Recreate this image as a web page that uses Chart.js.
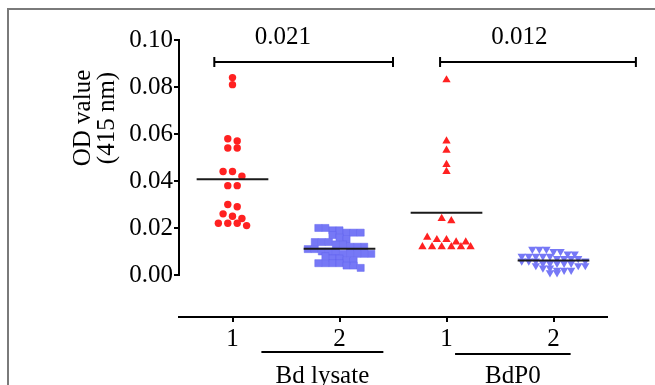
<!DOCTYPE html>
<html>
<head>
<meta charset="utf-8">
<script src="https://cdn.jsdelivr.net/npm/chart.js@4/dist/chart.umd.min.js"></script>
<style>
  body { margin: 0; overflow: hidden; background: #fff; }
  #wrap { position: relative; width: 655px; height: 385px; overflow: hidden; }
  #frame { position: absolute; left: 7px; top: 8px; width: 800px; height: 600px;
           border-top: 2px solid #7a7a7a; border-left: 2px solid #7a7a7a; }
  canvas { position: absolute; left: 0; top: 0; }
</style>
</head>
<body>
<div id="wrap">
  <div id="frame"></div>
  <canvas id="odChart" width="655" height="385"></canvas>
</div>
<script>
// values (OD at 415 nm)
const bdLysate1 = [0.084, 0.081, 0.058, 0.057, 0.054, 0.054, 0.044, 0.044, 0.042, 0.038,
                   0.038, 0.030, 0.029, 0.026, 0.025, 0.024, 0.022, 0.022, 0.022, 0.021];
const bdLysate2 = [0.020, 0.020, 0.019, 0.019, 0.018, 0.018, 0.018, 0.017, 0.016, 0.015,
                   0.014, 0.014, 0.014, 0.013, 0.013, 0.012, 0.012, 0.012, 0.011, 0.011,
                   0.010, 0.010, 0.010, 0.009, 0.009, 0.009, 0.009, 0.009, 0.008, 0.007,
                   0.007, 0.006, 0.006, 0.005, 0.005, 0.005, 0.005, 0.004, 0.004, 0.003];
const bdP01 = [0.083, 0.057, 0.053, 0.047, 0.044, 0.024, 0.023, 0.016, 0.015, 0.015,
               0.014, 0.014, 0.012, 0.012, 0.012, 0.012, 0.012, 0.012];
const bdP02 = [0.011, 0.011, 0.011, 0.010, 0.010, 0.009, 0.009, 0.008, 0.008, 0.008,
               0.008, 0.008, 0.007, 0.007, 0.007, 0.007, 0.006, 0.006, 0.006, 0.006,
               0.005, 0.005, 0.005, 0.005, 0.005, 0.004, 0.004, 0.004, 0.003, 0.003,
               0.002, 0.002, 0.002, 0.001, 0.001];

const xTickLabels = ['1', '2', '1', '2'];
const yTicks = [0, 0.02, 0.04, 0.06, 0.08, 0.10];
const groupNames = ['Bd lysate', 'BdP0'];
const pValues = ['0.021', '0.012'];
const yTitle = ['OD value', '(415 nm)'];

const RED = '#ff2121';
const BLUE = '#7678f6';
const FONT = "'Liberation Serif', 'Times New Roman', serif";

Chart.defaults.font.family = FONT;
Chart.defaults.font.size = 25;
Chart.defaults.color = '#000';

// simple row-based scatter layout like Prism
function swarm(values, center, step, tol, maxPerRow) {
    const sorted = [...values].sort((a, b) => b - a);
    const rows = [];
    sorted.forEach(v => {
        const row = rows[rows.length - 1];
        if (row && row[0] - v <= tol + 1e-9 && row.length < maxPerRow) row.push(v);
        else rows.push([v]);
    });
    const pts = [];
    rows.forEach(row => row.forEach((v, i) => {
        pts.push({x: center + (i - (row.length - 1) / 2) * step, y: v});
    }));
    return pts;
}

const mean = arr => arr.reduce((a, b) => a + b, 0) / arr.length;

function meanLine(values, center) {
    const m = mean(values);
    return {
        data: [{x: center - 0.335, y: m}, {x: center + 0.335, y: m}],
        showLine: true,
        borderColor: '#1a1a1a',
        borderWidth: 2,
        pointRadius: 0,
        order: 0
    };
}

const extras = {
    id: 'extras',
    afterDraw(chart) {
        const {ctx, chartArea, scales: {x, y}} = chart;
        ctx.save();
        ctx.strokeStyle = '#000';
        ctx.fillStyle = '#000';
        ctx.lineWidth = 2;

        // y axis line only over the 0 - 0.10 range
        ctx.beginPath();
        ctx.moveTo(chartArea.left, y.getPixelForValue(0) + 1);
        ctx.lineTo(chartArea.left, y.getPixelForValue(0.1) - 1);
        ctx.stroke();

        // y axis title
        ctx.font = '25px ' + FONT;
        ctx.textAlign = 'center';
        ctx.textBaseline = 'middle';
        yTitle.forEach((t, i) => {
            ctx.save();
            ctx.translate(83 + i * 24, 118);
            ctx.rotate(-Math.PI / 2);
            ctx.fillText(t, 0, 0);
            ctx.restore();
        });

        // comparison brackets
        const brackets = [[0.83, 2.5], [2.94, 4.77]];
        const by = y.getPixelForValue(0.0906);
        brackets.forEach(([a, b], i) => {
            const xa = x.getPixelForValue(a), xb = x.getPixelForValue(b);
            ctx.beginPath();
            ctx.moveTo(xa, by); ctx.lineTo(xb, by);
            ctx.moveTo(xa, by - 5); ctx.lineTo(xa, by + 5);
            ctx.moveTo(xb, by - 5); ctx.lineTo(xb, by + 5);
            ctx.stroke();
            const tx = i === 0 ? 1.47 : 3.68;
            ctx.fillText(pValues[i], x.getPixelForValue(tx), by - 25);
        });

        // group labels under the axis
        const spans = [[1.27, 2.41], [3.08, 4.16]];
        spans.forEach(([a, b], i) => {
            const xa = x.getPixelForValue(a), xb = x.getPixelForValue(b);
            const ly = chartArea.bottom + 35 + i * 2;
            ctx.beginPath();
            ctx.moveTo(xa, ly); ctx.lineTo(xb, ly);
            ctx.stroke();
            ctx.fillText(groupNames[i], (xa + xb) / 2, 376);
        });
        ctx.restore();
    }
};

new Chart(document.getElementById('odChart'), {
    type: 'scatter',
    data: {
        datasets: [
            meanLine(bdLysate1, 1),
            meanLine(bdLysate2, 2),
            meanLine(bdP01, 3),
            meanLine(bdP02, 4),
            {
                data: swarm(bdLysate1, 1, 0.088, 0.0021, 6),
                pointStyle: 'circle', pointRadius: 3.7,
                backgroundColor: RED, borderWidth: 0, order: 1
            },
            {
                data: swarm(bdLysate2, 2, 0.066, 0.0021, 10),
                pointStyle: 'rect', pointRadius: 5,
                backgroundColor: BLUE, borderColor: '#6264ee', borderWidth: 0.5, order: 1
            },
            {
                data: swarm(bdP01, 3, 0.09, 0.0021, 6),
                pointStyle: 'triangle', pointRadius: 4.8,
                backgroundColor: RED, borderWidth: 0, order: 1
            },
            {
                data: swarm(bdP02, 4, 0.066, 0.0021, 10),
                pointStyle: 'triangle', rotation: 180, pointRadius: 4.8,
                backgroundColor: BLUE, borderWidth: 0, order: 1
            }
        ]
    },
    options: {
        responsive: false,
        animation: false,
        layout: {
            padding: {top: 40, right: 48, bottom: 0, left: 0}
        },
        plugins: {
            legend: {display: false},
            tooltip: {enabled: false}
        },
        scales: {
            x: {
                type: 'linear',
                min: 0.5,
                max: 4.5,
                afterBuildTicks: s => { s.ticks = [1, 2, 3, 4].map(v => ({value: v})); },
                afterFit: s => { s.height = 68; },
                ticks: {
                    callback: (v, i) => xTickLabels[i],
                    padding: 2
                },
                grid: {drawOnChartArea: false, color: '#000', lineWidth: 2, tickLength: 5},
                border: {color: '#000', width: 2}
            },
            y: {
                min: -0.0179,
                max: 0.1,
                afterBuildTicks: s => { s.ticks = yTicks.map(v => ({value: v})); },
                afterFit: s => { s.width = 179; },
                ticks: {
                    callback: v => v.toFixed(2),
                    padding: 1
                },
                grid: {drawOnChartArea: false, color: '#000', lineWidth: 2, tickLength: 5},
                border: {display: false}
            }
        }
    },
    plugins: [extras]
});
</script>
</body>
</html>
